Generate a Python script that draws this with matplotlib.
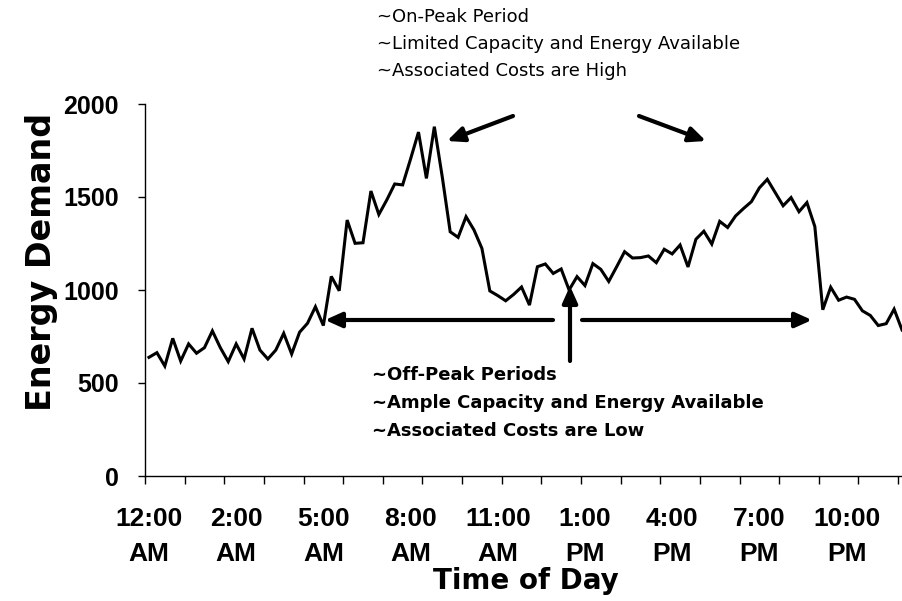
import matplotlib
matplotlib.use("Agg")
import matplotlib.pyplot as plt

plt.rcParams['font.family'] = ['Liberation Sans', 'DejaVu Sans']

# 96 readings across the day (15 minute steps)
demand = [638, 663, 591, 740, 618, 710, 660, 690, 780, 690,
          615, 710, 629, 794, 677, 629, 677, 767, 656, 773,
          821, 910, 809, 1073, 996, 1376, 1251, 1254, 1532, 1406,
          1484, 1570, 1565, 1704, 1849, 1600, 1878, 1608, 1313, 1283,
          1394, 1323, 1224, 995, 970, 942, 976, 1016, 919, 1125,
          1140, 1089, 1113, 1000, 1072, 1024, 1142, 1111, 1046, 1125,
          1206, 1172, 1174, 1183, 1147, 1219, 1194, 1242, 1124, 1273,
          1316, 1247, 1369, 1336, 1398, 1438, 1475, 1549, 1595, 1524,
          1453, 1497, 1421, 1470, 1341, 894, 1015, 945, 962, 950,
          888, 863, 809, 819, 897, 785]

label_pos = [0, 11, 22, 33, 44, 55, 66, 77, 88]
time_labels = ["12:00\nAM", "2:00\nAM", "5:00\nAM", "8:00\nAM", "11:00\nAM",
               "1:00\nPM", "4:00\nPM", "7:00\nPM", "10:00\nPM"]
y_ticks = [0, 500, 1000, 1500, 2000]

on_peak_text = ["~On-Peak Period",
                "~Limited Capacity and Energy Available",
                "~Associated Costs are High"]
off_peak_text = ["~Off-Peak Periods",
                 "~Ample Capacity and Energy Available",
                 "~Associated Costs are Low"]

W, H = 902, 601
fig = plt.figure(figsize=(W / 100, H / 100), dpi=100)
ax = fig.add_axes([145 / W, (H - 476) / H, 761 / W, 372 / H])

ax.plot(range(len(demand)), demand, color='black', lw=2.2,
        solid_joinstyle='miter')
ax.set_xlim(-0.5, len(demand) - 0.5)
ax.set_ylim(0, 2000)

for s in ['top', 'right']:
    ax.spines[s].set_visible(False)
for s in ['left', 'bottom']:
    ax.spines[s].set_linewidth(1.0)

ax.set_yticks(y_ticks)
ax.set_yticklabels([str(v) for v in y_ticks], fontsize=18, fontweight='bold')
ax.tick_params(axis='y', direction='out', length=5, width=1, pad=14)

ax.set_xticks(label_pos)
ax.set_xticklabels(time_labels, fontsize=19, fontweight='bold', linespacing=1.6)
ax.set_xticks([x - 0.5 for x in range(0, len(demand), 5)], minor=True)
ax.tick_params(axis='x', which='major', length=0, pad=22)
ax.tick_params(axis='x', which='minor', direction='out', length=6, width=1)

ax.set_xlabel("Time of Day", fontsize=20, fontweight='bold',
              family='DejaVu Sans', labelpad=1)
fig.text(42 / W, 1 - 262 / H, "Energy Demand", rotation=90, fontsize=24,
         fontweight='bold', family='DejaVu Sans', ha='center', va='center')

# annotation text blocks
for i, line in enumerate(on_peak_text):
    fig.text(377 / W, 1 - (17 + 27 * i) / H, line, fontsize=13,
             family='DejaVu Sans', ha='left', va='center')
for i, line in enumerate(off_peak_text):
    fig.text(372 / W, 1 - (375 + 28 * i) / H, line, fontsize=13,
             fontweight='bold', family='DejaVu Sans', ha='left', va='center')

# arrows (figure pixel coords, origin bottom left)
arrows = [((553, 320), (325, 320)),
          ((582, 320), (812, 320)),
          ((570, 361), (570, 286)),
          ((513, 116), (447, 141)),
          ((639, 116), (706, 141))]
for (x0, y0), (x1, y1) in arrows:
    ax.annotate("", xy=(x1, H - y1), xycoords='figure pixels',
                xytext=(x0, H - y0), textcoords='figure pixels',
                arrowprops=dict(arrowstyle='-|>,head_length=1.0,head_width=0.45',
                                color='black', lw=3, shrinkA=0, shrinkB=0),
                annotation_clip=False)

fig.savefig("out.png", dpi=100)
